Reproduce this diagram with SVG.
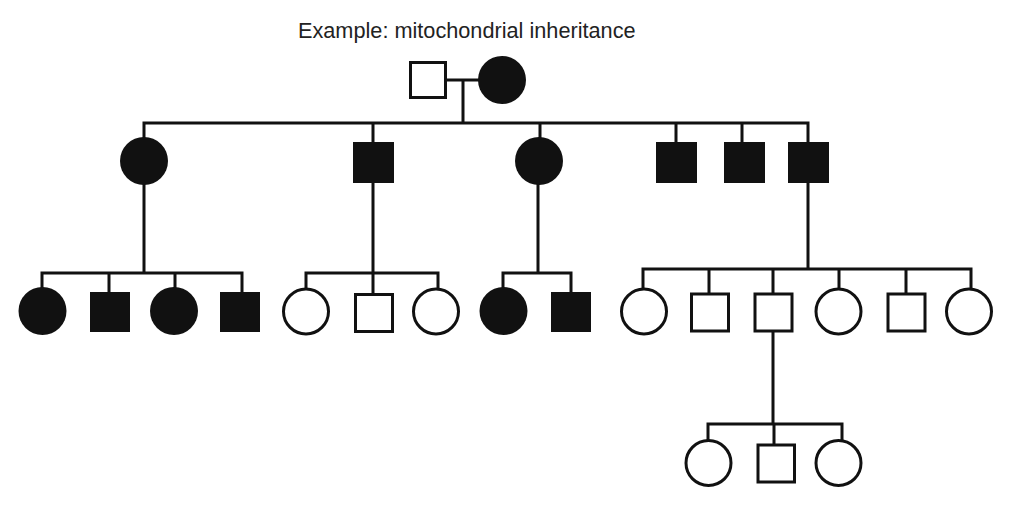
<svg xmlns="http://www.w3.org/2000/svg" width="1024" height="508" viewBox="0 0 1024 508">
<style>
.ln{stroke:#111;stroke-width:3;fill:none;stroke-linecap:square}
.af{fill:#111;stroke:none}
.un{fill:#fff;stroke:#111;stroke-width:3}
.t{font-family:"Liberation Sans",Arial,sans-serif;font-size:21.7px;fill:#222}
</style>
<rect width="1024" height="508" fill="#fff"/>
<text class="t" x="298" y="38">Example: mitochondrial inheritance</text>
<g id="connectors">
<path class="ln" d="M446 80H478M463 80V123M144 123H808M144 123V137M373 123V142M540 123V137M676 123V142M742 123V142M808 123V142"/>
<path class="ln" d="M144 184V273M42 273H242M42 273V287M109 273V292M175 273V287M242 273V292"/>
<path class="ln" d="M373 182V273M306 273H438M306 273V288M373 273V293M438 273V288"/>
<path class="ln" d="M538 185V273M503 273H571M503 273V287M571 273V292"/>
<path class="ln" d="M808 182V269M643 269H971M643 269V288M709 269V293M773 269V293M839 269V288M906 269V293M971 269V288"/>
<path class="ln" d="M773 332V424M708 424H842M708 424V439M774 424V443M842 424V439"/>
</g>
<g id="p-father"><rect class="un" x="410.5" y="62.5" width="35" height="35"/></g>
<g id="p-mother"><circle class="af" cx="502" cy="80" r="24"/></g>
<g id="g2-1"><circle class="af" cx="144" cy="161" r="24"/></g>
<g id="g2-2"><rect class="af" x="353" y="142" width="41" height="41"/></g>
<g id="g2-3"><circle class="af" cx="539" cy="161" r="24"/></g>
<g id="g2-4"><rect class="af" x="656" y="142" width="41" height="41"/></g>
<g id="g2-5"><rect class="af" x="724" y="142" width="41" height="41"/></g>
<g id="g2-6"><rect class="af" x="788" y="142" width="41" height="41"/></g>
<g id="g3-1"><circle class="af" cx="42.5" cy="311" r="24"/></g>
<g id="g3-2"><rect class="af" x="90" y="292" width="40" height="40"/></g>
<g id="g3-3"><circle class="af" cx="174" cy="311" r="24"/></g>
<g id="g3-4"><rect class="af" x="220" y="292" width="40" height="40"/></g>
<g id="g3-5"><circle class="un" cx="306" cy="311.5" r="22.5"/></g>
<g id="g3-6"><rect class="un" x="355.5" y="294.5" width="37" height="37"/></g>
<g id="g3-7"><circle class="un" cx="436" cy="311.5" r="22.5"/></g>
<g id="g3-8"><circle class="af" cx="503.5" cy="311" r="24"/></g>
<g id="g3-9"><rect class="af" x="551" y="292" width="40" height="40"/></g>
<g id="g3-10"><circle class="un" cx="644" cy="311.5" r="22.5"/></g>
<g id="g3-11"><rect class="un" x="691.5" y="294" width="37" height="37"/></g>
<g id="g3-12"><rect class="un" x="755" y="294" width="37" height="37"/></g>
<g id="g3-13"><circle class="un" cx="838.5" cy="311.5" r="22.5"/></g>
<g id="g3-14"><rect class="un" x="888" y="294" width="37" height="37"/></g>
<g id="g3-15"><circle class="un" cx="969" cy="311.5" r="22.5"/></g>
<g id="g4-1"><circle class="un" cx="708.5" cy="463" r="22.5"/></g>
<g id="g4-2"><rect class="un" x="758" y="445" width="36.5" height="37"/></g>
<g id="g4-3"><circle class="un" cx="838.5" cy="463" r="22.5"/></g>
</svg>
